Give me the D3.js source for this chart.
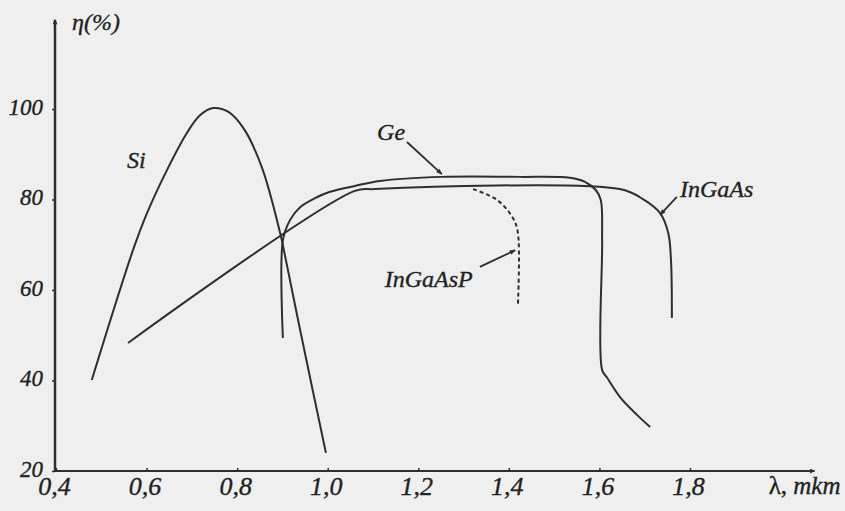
<!DOCTYPE html>
<html>
<head>
<meta charset="utf-8">
<script src="https://cdn.jsdelivr.net/npm/d3@7"></script>
<style>
  html, body { margin: 0; padding: 0; background: #efefef; }
  svg { display: block; }
  text { font-family: "Liberation Serif", "DejaVu Serif", serif; fill: #222; stroke: #222; stroke-width: 0.35px; }
</style>
</head>
<body>
<svg id="chart" width="845" height="511"></svg>
<script>
// Quantum efficiency η (%) versus wavelength λ (µm) for photodiode materials.
const xTicks = [0.4, 0.6, 0.8, 1.0, 1.2, 1.4, 1.6, 1.8];
const yTicks = [20, 40, 60, 80, 100];

// [λ, η] points of each curve
const siCurve = [
  [0.479, 40.1], [0.570, 68.8], [0.601, 77.0], [0.645, 86.5], [0.689, 94.7],
  [0.718, 98.6], [0.747, 100.2], [0.780, 99.4], [0.815, 95.6], [0.855, 87.0],
  [0.895, 72.6], [0.901, 69.9], [0.939, 51.2], [0.996, 24.0]
];
const geCurve = [
  [0.901, 49.4], [0.901, 71.0], [0.917, 75.5], [0.939, 78.3], [0.972, 80.3],
  [1.005, 81.7], [1.060, 83.0], [1.115, 84.1], [1.252, 85.0], [1.425, 85.0],
  [1.535, 84.8], [1.568, 83.9], [1.592, 82.1], [1.603, 79.9], [1.606, 71.0],
  [1.606, 42.3], [1.617, 40.6], [1.645, 36.4], [1.683, 32.4], [1.712, 29.7]
];
const ingaasCurve = [
  [0.559, 48.3], [1.060, 81.9], [1.104, 82.3], [1.645, 82.3], [1.696, 80.1],
  [1.734, 77.0], [1.752, 72.6], [1.758, 66.6], [1.760, 53.8]
];
const ingaaspCurve = [
  [1.321, 82.3], [1.374, 79.9], [1.409, 75.9], [1.420, 72.6], [1.420, 56.7]
];

// Curve labels: text, anchor point [λ, η], optional pointer [from, to]
const curveLabels = [
  { text: "Si", at: [0.557, 87.0] },
  { text: "Ge", at: [1.109, 93.1], arrow: [[1.175, 92.7], [1.252, 85.6]] },
  { text: "InGaAs", at: [1.778, 80.6], arrow: [[1.771, 80.6], [1.734, 76.6]] },
  { text: "InGaAsP", at: [1.126, 60.7], arrow: [[1.336, 65.1], [1.414, 68.8]] }
];

const xAxisEnd = 2.075;   // λ where the arrowed x axis ends
const yAxisEnd = 119.7;   // η where the arrowed y axis ends

const svg = d3.select("#chart");
const x = d3.scaleLinear().domain([0.4, 1.8]).range([56, 690]);
const y = d3.scaleLinear().domain([20, 100]).range([471, 109]);
const ink = "#2e2e2e";

// arrowheads
const defs = svg.append("defs");
defs.append("marker").attr("id", "axisHead")
  .attr("viewBox", "0 0 10 10").attr("refX", 9).attr("refY", 5)
  .attr("markerWidth", 7).attr("markerHeight", 5).attr("markerUnits", "userSpaceOnUse")
  .attr("orient", "auto")
  .append("path").attr("d", "M0,0 L10,5 L0,10 z").attr("fill", ink);
defs.append("marker").attr("id", "pointerHead")
  .attr("viewBox", "0 0 10 10").attr("refX", 9).attr("refY", 5)
  .attr("markerWidth", 9).attr("markerHeight", 6).attr("markerUnits", "userSpaceOnUse")
  .attr("orient", "auto")
  .append("path").attr("d", "M0,1 L10,5 L0,9 z").attr("fill", ink);

// axes
const fmtX = d => d.toFixed(1).replace(".", ",");
const gx = svg.append("g").attr("transform", `translate(0,${y(20)})`)
  .call(d3.axisBottom(x).tickValues(xTicks).tickFormat(fmtX).tickSize(-3).tickPadding(6));
gx.select(".domain").remove();
gx.selectAll(".tick line").attr("stroke", ink).attr("stroke-width", 1.5);
gx.selectAll(".tick text")
  .attr("font-size", 26).attr("font-style", "italic").attr("fill", "#222")
  .attr("dy", "0.71em").attr("dx", "-2");

const gy = svg.append("g").attr("transform", `translate(${x(0.4) - 1},0)`)
  .call(d3.axisLeft(y).tickValues(yTicks).tickFormat(d3.format("d")).tickSize(3).tickPadding(9));
gy.select(".domain").remove();
gy.selectAll(".tick line").attr("stroke", ink).attr("stroke-width", 1.5);
gy.selectAll(".tick text")
  .attr("font-size", 23).attr("font-style", "italic").attr("fill", "#222")
  .attr("dy", "0.22em");

svg.append("line")
  .attr("x1", x(0.4) - 2).attr("y1", y(20)).attr("x2", x(xAxisEnd)).attr("y2", y(20))
  .attr("stroke", ink).attr("stroke-width", 2).attr("marker-end", "url(#axisHead)");
svg.append("line")
  .attr("x1", x(0.4) - 1).attr("y1", y(20) + 1).attr("x2", x(0.4) - 1).attr("y2", y(yAxisEnd))
  .attr("stroke", ink).attr("stroke-width", 2.5).attr("marker-end", "url(#axisHead)");

// axis titles
svg.append("text").attr("x", x(0.4) + 16).attr("y", y(yAxisEnd) + 10)
  .attr("font-size", 24).attr("font-style", "italic").text("η(%)");
const xt = svg.append("text").attr("x", x(xAxisEnd) + 26).attr("y", y(20) + 23)
  .attr("font-size", 25).attr("text-anchor", "end");
xt.append("tspan").text("λ, ");
xt.append("tspan").attr("font-style", "italic").text("mkm");

// curves
const line = d3.line()
  .x(d => x(d[0])).y(d => y(d[1]))
  .curve(d3.curveCatmullRom.alpha(0.5));
const curves = [
  { data: siCurve, dash: null },
  { data: geCurve, dash: null },
  { data: ingaasCurve, dash: null },
  { data: ingaaspCurve, dash: "4,3" }
];
svg.append("g").selectAll("path").data(curves).join("path")
  .attr("d", d => line(d.data))
  .attr("fill", "none").attr("stroke", ink).attr("stroke-width", 2)
  .attr("stroke-dasharray", d => d.dash);

// labels and pointers
const lg = svg.append("g");
lg.selectAll("line").data(curveLabels.filter(d => d.arrow)).join("line")
  .attr("x1", d => x(d.arrow[0][0])).attr("y1", d => y(d.arrow[0][1]))
  .attr("x2", d => x(d.arrow[1][0])).attr("y2", d => y(d.arrow[1][1]))
  .attr("stroke", ink).attr("stroke-width", 1.8).attr("marker-end", "url(#pointerHead)");
lg.selectAll("text").data(curveLabels).join("text")
  .attr("x", d => x(d.at[0])).attr("y", d => y(d.at[1]))
  .attr("font-size", 24).attr("font-style", "italic")
  .text(d => d.text);
</script>
</body>
</html>
